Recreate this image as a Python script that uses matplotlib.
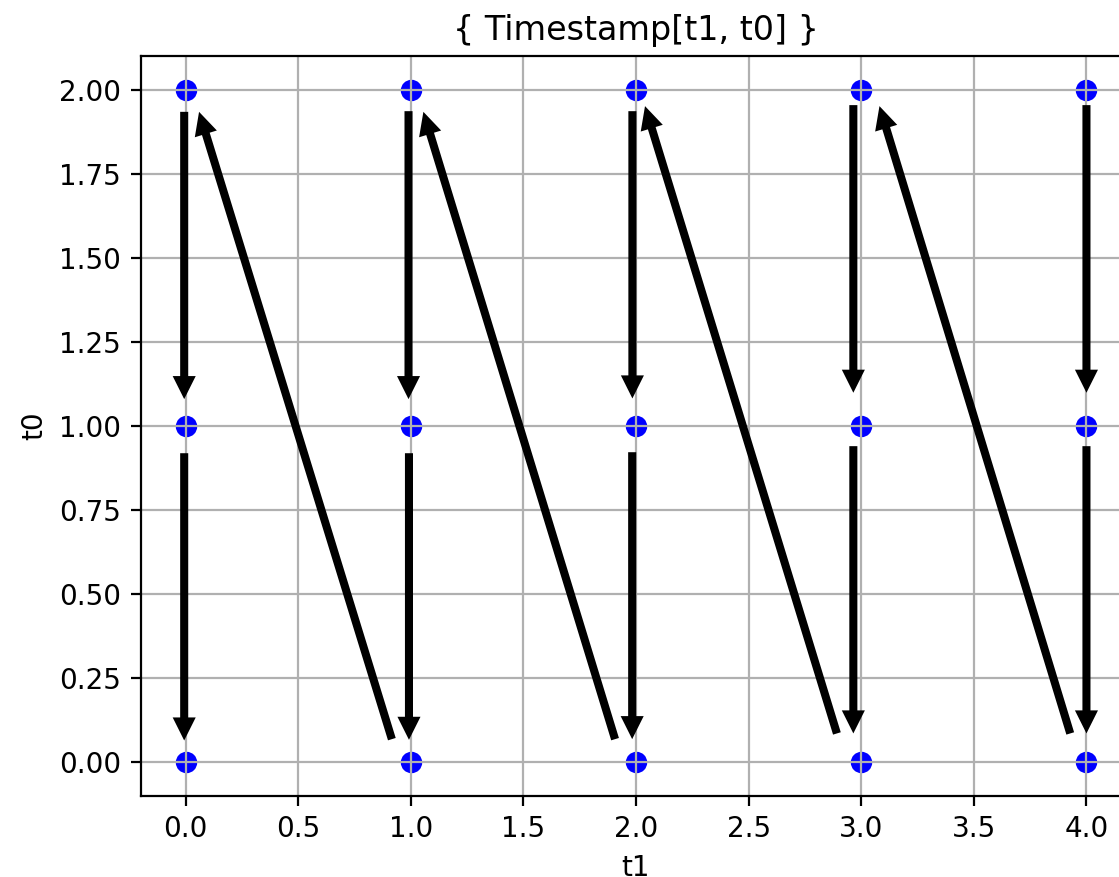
import matplotlib
matplotlib.use("Agg")
import matplotlib.pyplot as plt

# puntos de la grilla (t1, t0)
t1_vals = [0, 1, 2, 3, 4]
t0_vals = [0, 1, 2]

# flechas: inicio (x0, y0) -> fin (x1, y1)
flecha_x0 = [-0.006, -0.006, 0.916,
             0.990, 0.992, 1.907,
             1.984, 1.983, 2.892,
             2.965, 2.965, 3.928,
             4.000, 4.000]
flecha_y0 = [1.935, 0.919, 0.068,
             1.937, 0.919, 0.068,
             1.937, 0.922, 0.085,
             1.955, 0.940, 0.085,
             1.955, 0.940]
flecha_x1 = [-0.006, -0.006, 0.060,
             0.990, 0.992, 1.056,
             1.984, 1.983, 2.040,
             2.965, 2.965, 3.081,
             4.000, 4.000]
flecha_y1 = [1.080, 0.064, 1.935,
             1.080, 0.066, 1.935,
             1.082, 0.068, 1.952,
             1.099, 0.085, 1.952,
             1.099, 0.085]

dpi = 200
fig = plt.figure(figsize=(1119 / dpi, 877 / dpi), dpi=dpi)
ax = fig.add_axes([140.5 / 1119, 81.4 / 877, 991 / 1119, 739.2 / 877])

# --- puntos ---
xs = [a for a in t1_vals for b in t0_vals]
ys = [b for a in t1_vals for b in t0_vals]
ax.scatter(xs, ys, s=45, c="blue")

# --- flechas ---
for x0, y0, x1, y1 in zip(flecha_x0, flecha_y0, flecha_x1, flecha_y1):
    ax.annotate("", xy=(x1, y1), xytext=(x0, y0),
                arrowprops=dict(arrowstyle="simple,head_length=0.83,head_width=0.83,tail_width=0.29",
                                mutation_scale=10, color="black", lw=0,
                                shrinkA=0, shrinkB=0))

ax.grid(True)
ax.set_title("{ Timestamp[t1, t0] }", fontsize=12)
ax.set_xlabel("t1")
ax.set_ylabel("t0")

fig.savefig("out.png", dpi=dpi)
